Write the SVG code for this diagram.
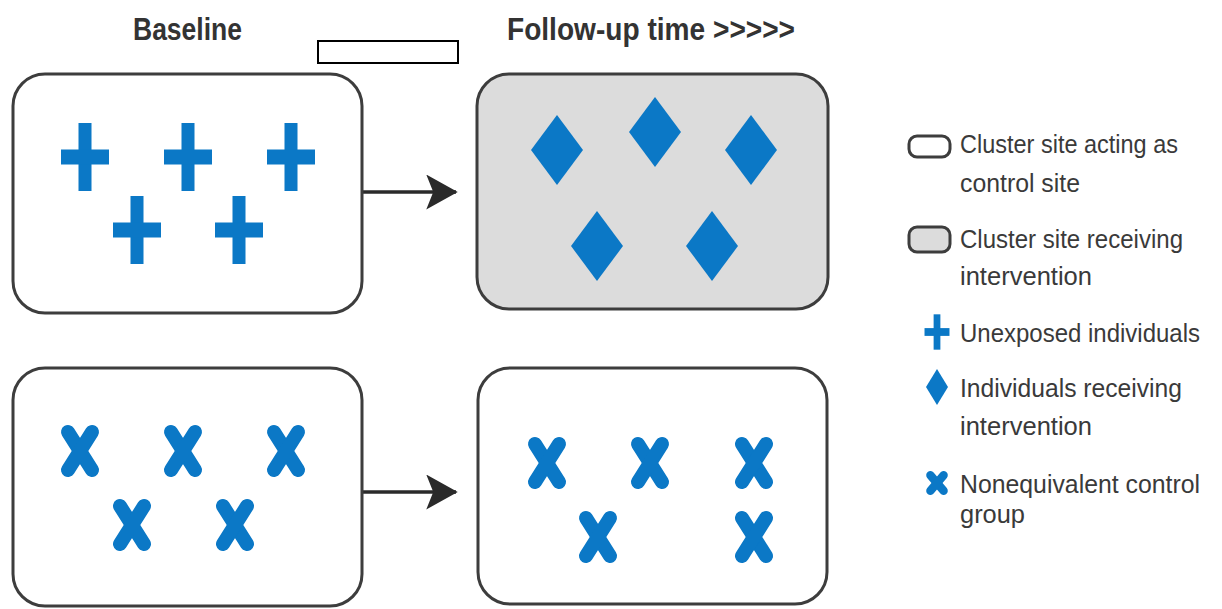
<svg xmlns="http://www.w3.org/2000/svg" width="1222" height="609" viewBox="0 0 1222 609">
<style>
.box{stroke:#3d3d3d;stroke-width:3}
.ctrl{fill:#ffffff}
.intv{fill:#dcdcdc}
.mark{fill:#0b78c6}
.xm{stroke:#0b78c6;stroke-width:14;stroke-linecap:round;fill:none}
.title{font-family:"Liberation Sans",Arial,sans-serif;font-weight:bold;font-size:31px;fill:#333333}
.leg{font-family:"Liberation Sans",Arial,sans-serif;font-size:26px;fill:#3a3a3a}
.conn{stroke:#2a2a2a;stroke-width:3.5;fill:none}
</style>
<defs>
<g id="plus"><rect class="mark" x="-6.5" y="-34" width="13" height="68"/><rect class="mark" x="-24" y="-7.5" width="48" height="15"/></g>
<g id="dia"><polygon class="mark" points="0,-35 26,0 0,35 -26,0"/></g>
<g id="xx"><line class="xm" x1="-12" y1="-19" x2="12" y2="19"/><line class="xm" x1="12" y1="-19" x2="-12" y2="19"/></g>
<marker id="arr" markerWidth="10" markerHeight="10" refX="8.5" refY="5" orient="auto" markerUnits="strokeWidth" viewBox="0 0 10 10"><path d="M0,0 L9,5 L0,10 L2,5 Z" fill="#2a2a2a"/></marker>
</defs>
<rect x="0" y="0" width="1222" height="609" fill="#ffffff"/>
<text class="title" x="133" y="40" textLength="109" lengthAdjust="spacingAndGlyphs">Baseline</text>
<text class="title" x="507" y="40" textLength="288" lengthAdjust="spacingAndGlyphs">Follow-up time &gt;&gt;&gt;&gt;&gt;</text>
<rect x="318" y="41" width="140" height="22" fill="#ffffff" stroke="#000000" stroke-width="2"/>
<g id="connectors">
<line class="conn" x1="362" y1="192" x2="456" y2="192" marker-end="url(#arr)"/>
<line class="conn" x1="362" y1="492" x2="456" y2="492" marker-end="url(#arr)"/>
</g>
<g id="baseline-intervention">
<rect class="box ctrl" x="13" y="74" width="349" height="239" rx="32"/>
<use href="#plus" x="85" y="157"/><use href="#plus" x="188" y="157"/><use href="#plus" x="291" y="157"/>
<use href="#plus" x="137" y="230"/><use href="#plus" x="239" y="230"/>
</g>
<g id="followup-intervention">
<rect class="box intv" x="477" y="74" width="351" height="235" rx="32"/>
<use href="#dia" x="557" y="150"/><use href="#dia" x="655" y="132"/><use href="#dia" x="751" y="150"/>
<use href="#dia" x="597" y="246"/><use href="#dia" x="712" y="246"/>
</g>
<g id="baseline-control">
<rect class="box ctrl" x="13" y="368" width="349" height="238" rx="32"/>
<use href="#xx" x="80" y="451"/><use href="#xx" x="183" y="451"/><use href="#xx" x="286" y="451"/>
<use href="#xx" x="132" y="525"/><use href="#xx" x="235" y="525"/>
</g>
<g id="followup-control">
<rect class="box ctrl" x="478" y="368" width="349" height="236" rx="32"/>
<use href="#xx" x="547" y="463"/><use href="#xx" x="650" y="463"/><use href="#xx" x="754" y="463"/>
<use href="#xx" x="598" y="537"/><use href="#xx" x="754" y="537"/>
</g>
<g id="legend">
<rect class="box ctrl" x="909" y="136" width="41" height="21" rx="8" stroke-width="2.5"/>
<text class="leg" x="960" y="153" textLength="218" lengthAdjust="spacingAndGlyphs">Cluster site acting as</text>
<text class="leg" x="960" y="192" textLength="120" lengthAdjust="spacingAndGlyphs">control site</text>
<rect class="box intv" x="909" y="227" width="41" height="25" rx="8" stroke-width="2.5"/>
<text class="leg" x="960" y="248" textLength="223" lengthAdjust="spacingAndGlyphs">Cluster site receiving</text>
<text class="leg" x="960" y="285" textLength="132" lengthAdjust="spacingAndGlyphs">intervention</text>
<use href="#plus" transform="translate(937,332) scale(0.52)"/>
<text class="leg" x="960" y="342" textLength="240" lengthAdjust="spacingAndGlyphs">Unexposed individuals</text>
<polygon class="mark" points="937,369 948,387 937,405 926,387"/>
<text class="leg" x="960" y="397" textLength="222" lengthAdjust="spacingAndGlyphs">Individuals receiving</text>
<text class="leg" x="960" y="435" textLength="132" lengthAdjust="spacingAndGlyphs">intervention</text>
<g transform="translate(937,483) scale(0.6)"><line class="xm" x1="-11" y1="-13" x2="11" y2="13"/><line class="xm" x1="11" y1="-13" x2="-11" y2="13"/></g>
<text class="leg" x="960" y="493" textLength="240" lengthAdjust="spacingAndGlyphs">Nonequivalent control</text>
<text class="leg" x="960" y="523" textLength="65" lengthAdjust="spacingAndGlyphs">group</text>
</g>
</svg>
